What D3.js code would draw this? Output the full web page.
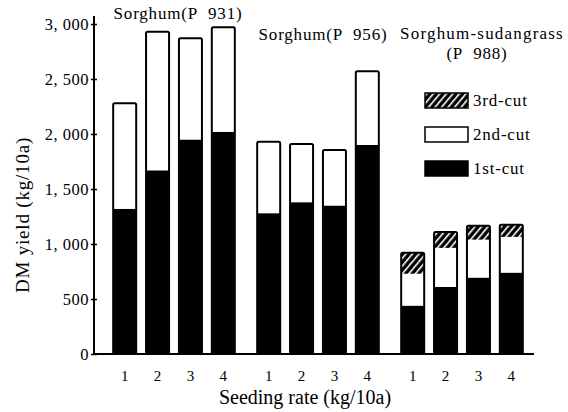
<!DOCTYPE html>
<html>
<head>
<meta charset="utf-8">
<script src="https://cdn.jsdelivr.net/npm/d3@7"></script>
<style>
	body { margin: 0; background: #fff; }
	svg text { font-family: 'Liberation Serif', 'Times New Roman', serif !important; fill: #000; }
</style>
</head>
<body>
<svg id="chart" width="568" height="412"></svg>
<script>
// data (kg/10a)
var groups = ["Sorghum(P\u00a0\u00a0931)", "Sorghum(P\u00a0\u00a0956)", "Sorghum-sudangrass (P 988)"];
var rates = ["1", "2", "3", "4"];
var cut1 = [
	[1320, 1670, 1950, 2020],
	[1280, 1380, 1350, 1900],
	[440, 610, 695, 740]
];
var cut2 = [
	[960, 1260, 920, 950],
	[650, 530, 505, 670],
	[290, 355, 345, 325]
];
var cut3 = [
	[0, 0, 0, 0],
	[0, 0, 0, 0],
	[190, 145, 125, 110]
];
var yTicks = [0, 500, 1000, 1500, 2000, 2500, 3000];
var cutNames = ["3rd-cut", "2nd-cut", "1st-cut"];

var svg = d3.select("#chart");

var defs = svg.append("defs");
var pat = defs.append("pattern")
	.attr("id", "hatch")
	.attr("patternUnits", "userSpaceOnUse")
	.attr("width", 5).attr("height", 5)
	.attr("patternTransform", "rotate(40)");
pat.append("rect").attr("width", 5).attr("height", 5).attr("fill", "#000");
pat.append("rect").attr("x", 1).attr("width", 1.6).attr("height", 5).attr("fill", "#fff");

var y = d3.scaleLinear().domain([0, 3000]).range([354, 24]);
var x0 = d3.scaleBand().domain(d3.range(groups.length)).range([102, 534]);
var x1 = d3.scaleBand().domain(rates).range([0, x0.bandwidth()])
	.paddingInner(0.3).paddingOuter(0.34);

function fmt(v) {
	return v >= 1000 ? d3.format(",")(v).replace(",", ", ") : String(v);
}

// bars
var rows = [];
groups.forEach(function(g, gi) {
	rates.forEach(function(r, ri) {
		var a = cut1[gi][ri], b = cut2[gi][ri], c = cut3[gi][ri];
		rows.push({g: gi, r: r, segs: [
			{y0: 0, y1: a, fill: "#000"},
			{y0: a, y1: a + b, fill: "#fff"},
			{y0: a + b, y1: a + b + c, fill: "url(#hatch)"}
		]});
	});
});

var bars = svg.append("g").selectAll("g").data(rows).enter().append("g")
	.attr("transform", function(d) { return "translate(" + (x0(d.g) + x1(d.r)) + ",0)"; });

bars.selectAll("rect").data(function(d) { return d.segs.filter(function(s) { return s.y1 > s.y0; }); })
	.enter().append("rect")
	.attr("x", 0)
	.attr("width", x1.bandwidth())
	.attr("y", function(s) { return y(s.y1); })
	.attr("height", function(s) { return y(s.y0) - y(s.y1); })
	.attr("fill", function(s) { return s.fill; });

bars.append("rect")
	.attr("x", 0)
	.attr("width", x1.bandwidth())
	.attr("y", function(d) { return y(d.segs[2].y1); })
	.attr("height", function(d) { return y(0) - y(d.segs[2].y1); })
	.attr("fill", "none")
	.attr("stroke", "#000")
	.attr("stroke-width", 2)
	.attr("rx", 1.5);

// y axis
var yAxis = svg.append("g")
	.attr("transform", "translate(94,0)")
	.call(d3.axisLeft(y).tickValues(yTicks).tickSize(3).tickFormat(fmt));
yAxis.attr("font-family", null).attr("font-size", null);
yAxis.select(".domain").attr("stroke-width", 2).attr("d", "M0," + (y(0) + 1) + "V" + (y(3000) - 8));
yAxis.selectAll(".tick line").attr("stroke-width", 1.5).attr("x2", 3).attr("x1", -3);
yAxis.selectAll(".tick text")
	.attr("x", -5)
	.style("font-size", "16.5px")
	.style("letter-spacing", "0.5px");

// x axis baseline
svg.append("line")
	.attr("x1", 94).attr("x2", 534)
	.attr("y1", y(0)).attr("y2", y(0))
	.attr("stroke", "#000").attr("stroke-width", 2);

// rate labels
svg.append("g").selectAll("text").data(rows).enter().append("text")
	.attr("x", function(d) { return x0(d.g) + x1(d.r) + x1.bandwidth() / 2; })
	.attr("y", 381)
	.attr("text-anchor", "middle")
	.style("font-size", "15px")
	.text(function(d) { return d.r; });

// group titles
function title(txt, cx, cy, ls) {
	svg.append("text").attr("x", cx).attr("y", cy).attr("text-anchor", "middle")
		.style("font-size", "17px").style("letter-spacing", (ls || 0.8) + "px").text(txt);
}
title(groups[0], 178, 19);
title(groups[1], 323, 40);
title("Sorghum-sudangrass", 482, 39, 1.2);
title("(P\u00a0\u00a0988)", 477, 59);

// legend
var legFill = ["url(#hatch)", "#fff", "#000"];
var leg = svg.append("g").selectAll("g").data(cutNames).enter().append("g")
	.attr("transform", function(d, i) { return "translate(425," + (93 + i * 34) + ")"; });
leg.append("rect")
	.attr("width", 43).attr("height", 15)
	.attr("fill", function(d, i) { return legFill[i]; })
	.attr("stroke", "#000").attr("stroke-width", 1.5);
leg.append("text")
	.attr("x", 48).attr("y", 13)
	.style("font-size", "17px")
	.style("letter-spacing", "0.8px")
	.text(function(d) { return d; });

// axis titles
svg.append("text")
	.attr("transform", "translate(29,215) rotate(-90)")
	.attr("text-anchor", "middle")
	.style("font-size", "19px")
	.style("letter-spacing", "0.8px")
	.text("DM yield (kg/10a)");
svg.append("text")
	.attr("x", 305).attr("y", 404)
	.attr("text-anchor", "middle")
	.style("font-size", "20px")
	.text("Seeding rate (kg/10a)");
</script>
</body>
</html>
